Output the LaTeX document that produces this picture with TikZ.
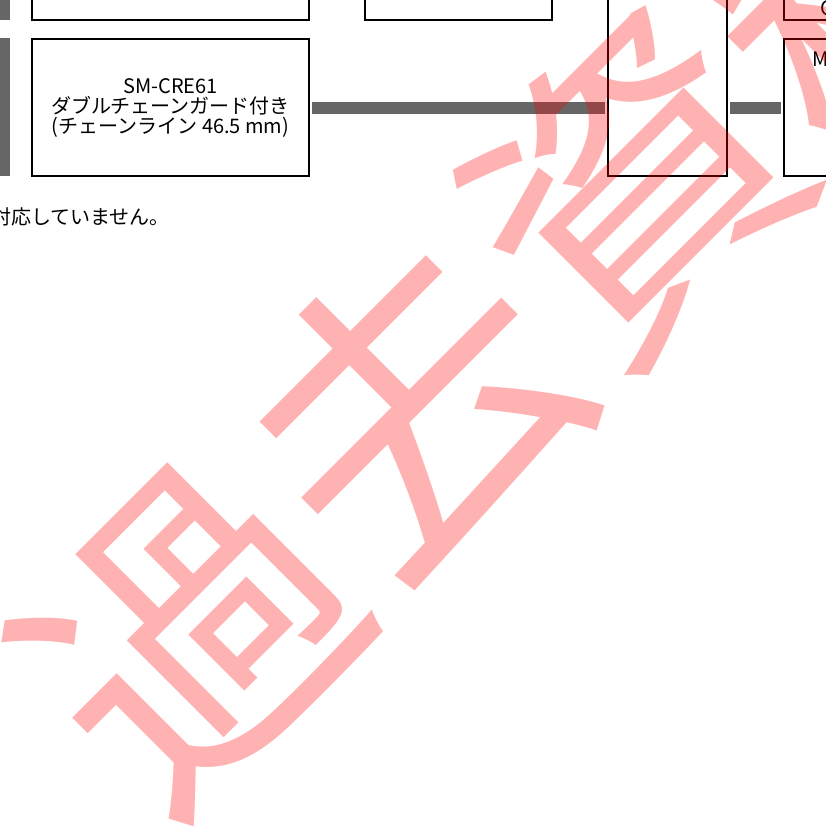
\documentclass[tikz,border=0pt]{standalone}
\usepackage{fontspec}
\setmainfont{Noto Sans CJK JP}
\usepackage{tikz}
\usetikzlibrary{positioning,calc}

\begin{document}
\begin{tikzpicture}[x=1pt,y=-1pt,font=\fontsize{20}{20}\selectfont,
  partbox/.style={draw, line width=1.6pt, align=center},
  chainbar/.style={draw=black!60, line width=12pt, shorten <=2pt, shorten >=2pt},
  rowmark/.style={fill=black!60},
  stamp/.style={text=red, text opacity=0.3, inner sep=0pt,
    font=\fontsize{315}{315}\selectfont}]
\clip (0,0) rectangle (826,831);
% row markers on the left edge
\fill[rowmark] (0,-60) rectangle (10,20);
\fill[rowmark] (0,38) rectangle (10,176);
% boxes
\node[partbox, minimum width=277, minimum height=80] (topl) at (170.5,-20) {};
\node[partbox, minimum width=187, minimum height=80] (topm) at (458.5,-20) {};
\node[partbox, minimum width=277, minimum height=137] (cre) at (170.5,107.5)
  {SM-CRE61\\ダブルチェーンガード付き\\(チェーンライン 46.5 mm)};
\node[partbox, minimum width=119, minimum height=236] (tall) at (667.5,58) {};
\node[partbox, minimum width=176, minimum height=80] (topr) at (872,-20) {};
\node[partbox, minimum width=176, minimum height=137] (rbox) at (872,107.5) {};
\node[anchor=base west, inner sep=0pt] (clabel) at (820,15) {C};
\node[anchor=base west, inner sep=0pt] (mlabel) at (812,66) {M};
% chain line
\draw[chainbar] (cre.east) -- (cre.east -| tall.west);
\draw[chainbar] (cre.east -| tall.east) -- (cre.east -| rbox.west);
% note
\node[anchor=east, inner sep=0pt] (note) at (170,217) {対応していません。};
% watermark
\node[stamp, rotate=45] (wm) at (523,298) {過去資料};
\end{tikzpicture}
\end{document}
